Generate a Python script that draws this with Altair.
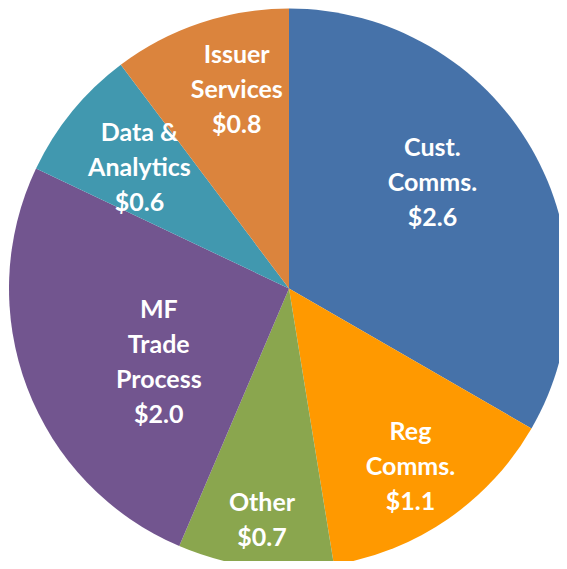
import altair as alt
import pandas as pd

categories = ["Cust. Comms.", "Reg Comms.", "Other", "MF Trade Process", "Data & Analytics", "Issuer Services"]
label_lines = [["Cust.", "Comms."], ["Reg", "Comms."], ["Other"], ["MF", "Trade", "Process"], ["Data &", "Analytics"], ["Issuer", "Services"]]
values = [2.6, 1.1, 0.7, 2.0, 0.6, 0.8]
colors = ["#4672A9", "#FF9900", "#8AA64E", "#72558F", "#4198AF", "#DB843D"]

# label placement (layout only): distance from centre and angular nudge in degrees
label_radius = [178, 216, 234, 150, 192, 205]
label_nudge = [-6.3, 0.4, -0.3, -9.0, -0.4, 3.7]

df = pd.DataFrame({
    "order": list(range(len(categories))),
    "category": categories,
    "value": values,
    "label": [lines + [f"${v:.1f}"] for lines, v in zip(label_lines, values)],
    "r": label_radius,
    "nudge": label_nudge,
})

W, H = 551, 553
cx, cy, R = 281, 280.5, 280
LH = 35

arcs = alt.Chart(df).mark_arc(outerRadius=R, stroke=None).encode(
    theta=alt.Theta("value:Q", stack=True),
    order=alt.Order("order:Q"),
    x=alt.value(cx), y=alt.value(cy),
    color=alt.Color("category:N", scale=alt.Scale(domain=categories, range=colors), legend=None),
)

texts = alt.Chart(df).transform_window(
    cum="sum(value)", sort=[alt.SortField("order")], frame=[None, 0]
).transform_joinaggregate(
    total="sum(value)"
).transform_calculate(
    mid="(datum.cum - datum.value / 2) / datum.total * 2 * PI + datum.nudge * PI / 180",
).transform_calculate(
    px=f"{cx} + datum.r * sin(datum.mid)",
    py=f"{cy} - datum.r * cos(datum.mid) - (length(datum.label) - 1) * {LH} / 2",
).mark_text(
    font="Lato", fontWeight="bold", fontSize=25, color="white",
    lineHeight=LH, align="center", baseline="middle",
).encode(
    x=alt.X("px:Q", scale=None, axis=None),
    y=alt.Y("py:Q", scale=None, axis=None),
    text="label",
)

chart = alt.layer(arcs, texts).properties(
    width=W, height=H,
    autosize=alt.AutoSizeParams(type="none"),
    padding=0,
).configure_view(stroke=None)

chart.save("out.html", embed_options={"renderer": "svg", "actions": False})
